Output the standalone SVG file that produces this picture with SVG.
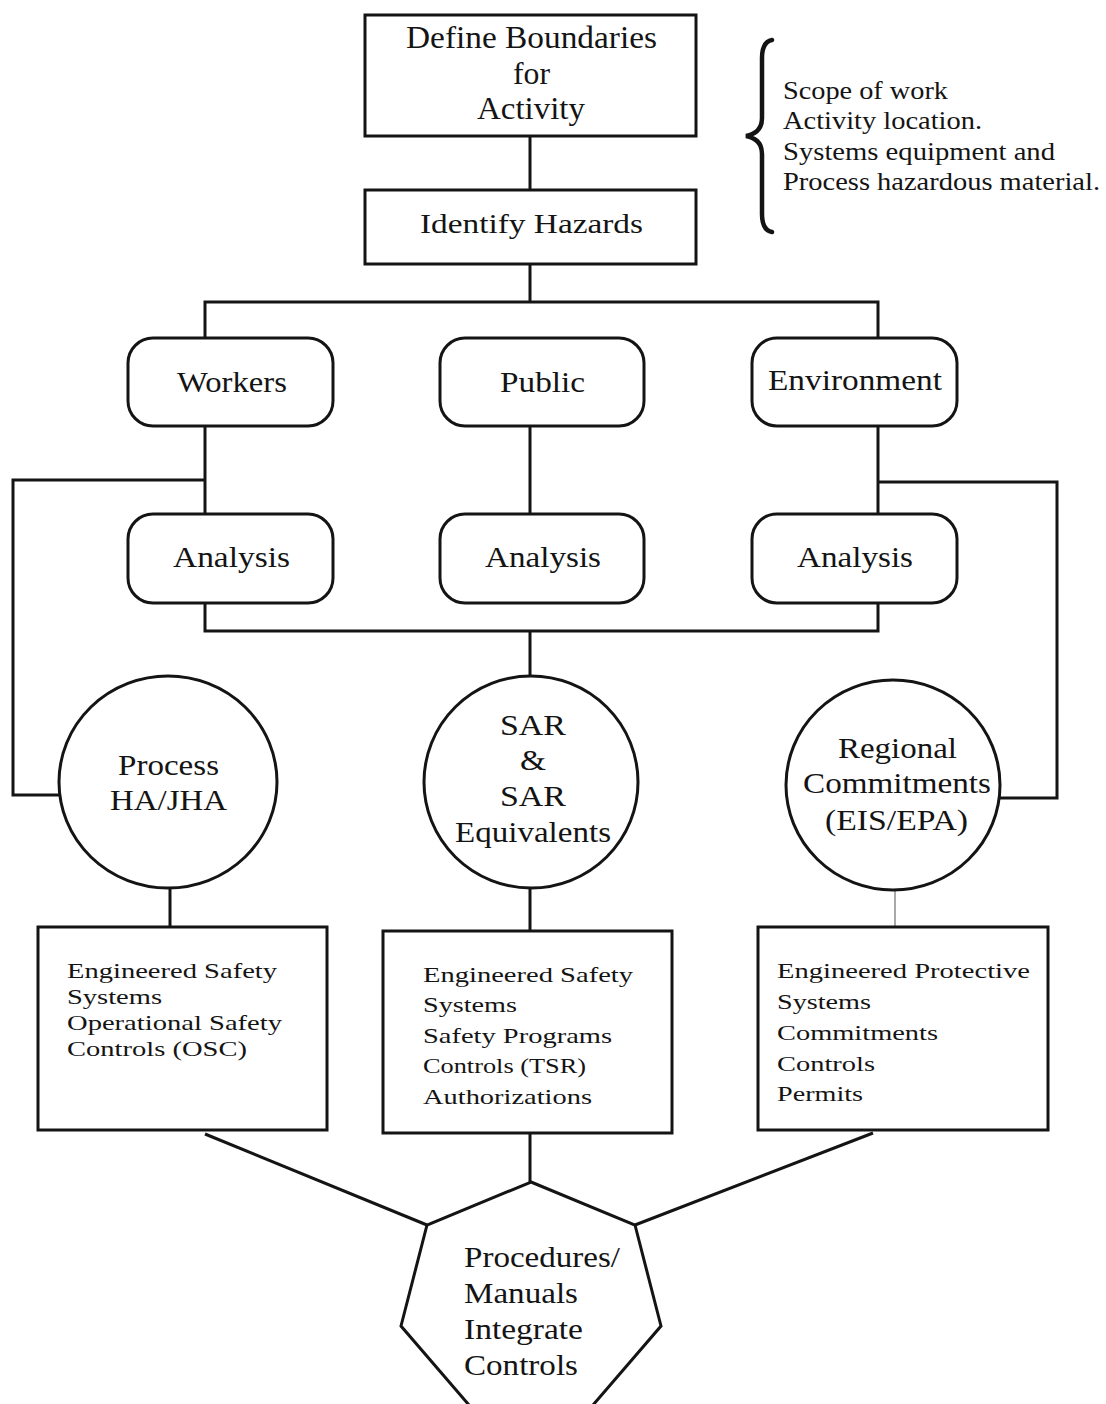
<svg xmlns="http://www.w3.org/2000/svg" width="1106" height="1404" viewBox="0 0 1106 1404">
  <style>
    .shape { fill: #ffffff; stroke: #141414; stroke-width: 3; }
    .wire { fill: none; stroke: #141414; stroke-width: 3; stroke-linejoin: miter; }
    .thin { fill: none; stroke: #707070; stroke-width: 1.2; }
    text { font-family: "Liberation Serif", "Times New Roman", serif; fill: #141414; }
    .t32 { font-size: 32px; }
    .t28 { font-size: 28px; }
    .t30 { font-size: 30px; }
    .t25 { font-size: 25px; }
    .t22 { font-size: 22px; }
  </style>

  <rect width="1106" height="1404" fill="#ffffff"/>

  <!-- connectors -->
  <g id="connectors">
    <path class="wire" d="M530,136 V190"/>
    <path class="wire" d="M530,264 V302"/>
    <path class="wire" d="M205,338 V302 H878 V338"/>
    <path class="wire" d="M205,426 V514"/>
    <path class="wire" d="M530,426 V514"/>
    <path class="wire" d="M878,426 V514"/>
    <path class="wire" d="M205,603 V631 H878 V603"/>
    <path class="wire" d="M530,631 V677"/>
    <path class="wire" d="M205,480 H13 V795 H60"/>
    <path class="wire" d="M878,482 H1057 V798 H1000"/>
    <path class="wire" d="M170,887 V927"/>
    <path class="wire" d="M530,887 V931"/>
    <path class="thin" d="M895,890 V927"/>
    <path class="wire" d="M205,1134 L427,1225"/>
    <path class="wire" d="M873,1133 L635,1225"/>
    <path class="wire" d="M530,1133 V1182"/>
  </g>

  <!-- scope brace and notes -->
  <g id="scope-note">
    <path d="M772,40 Q762,42 762,58 L762,118 Q762,133 746,136 Q762,139 762,154 L762,214 Q762,230 772,232" fill="none" stroke="#141414" stroke-width="4.5" stroke-linecap="round"/>
    <text class="t25" x="783" y="99" textLength="165" lengthAdjust="spacingAndGlyphs">Scope of work</text>
    <text class="t25" x="783" y="129" textLength="199" lengthAdjust="spacingAndGlyphs">Activity location.</text>
    <text class="t25" x="783" y="160" textLength="272" lengthAdjust="spacingAndGlyphs">Systems equipment and</text>
    <text class="t25" x="783" y="190" textLength="317" lengthAdjust="spacingAndGlyphs">Process hazardous material.</text>
  </g>

  <g id="define-boundaries">
    <rect class="shape" x="365" y="15" width="331" height="121"/>
    <text class="t32" x="406" y="48" textLength="251" lengthAdjust="spacingAndGlyphs">Define Boundaries</text>
    <text class="t32" x="513" y="84" textLength="37" lengthAdjust="spacingAndGlyphs">for</text>
    <text class="t32" x="477" y="119" textLength="108" lengthAdjust="spacingAndGlyphs">Activity</text>
  </g>

  <g id="identify-hazards">
    <rect class="shape" x="365" y="190" width="331" height="74"/>
    <text class="t28" x="420" y="233" textLength="223" lengthAdjust="spacingAndGlyphs">Identify Hazards</text>
  </g>

  <g id="workers">
    <rect class="shape" x="128" y="338" width="205" height="88" rx="25"/>
    <text class="t30" x="177" y="392" textLength="110" lengthAdjust="spacingAndGlyphs">Workers</text>
  </g>
  <g id="public">
    <rect class="shape" x="440" y="338" width="204" height="88" rx="25"/>
    <text class="t30" x="500" y="392" textLength="85" lengthAdjust="spacingAndGlyphs">Public</text>
  </g>
  <g id="environment">
    <rect class="shape" x="752" y="338" width="205" height="88" rx="25"/>
    <text class="t30" x="768" y="390" textLength="174" lengthAdjust="spacingAndGlyphs">Environment</text>
  </g>

  <g id="analysis-workers">
    <rect class="shape" x="128" y="514" width="205" height="89" rx="25"/>
    <text class="t30" x="173" y="567" textLength="117" lengthAdjust="spacingAndGlyphs">Analysis</text>
  </g>
  <g id="analysis-public">
    <rect class="shape" x="440" y="514" width="204" height="89" rx="25"/>
    <text class="t30" x="485" y="567" textLength="116" lengthAdjust="spacingAndGlyphs">Analysis</text>
  </g>
  <g id="analysis-environment">
    <rect class="shape" x="752" y="514" width="205" height="89" rx="25"/>
    <text class="t30" x="797" y="567" textLength="116" lengthAdjust="spacingAndGlyphs">Analysis</text>
  </g>

  <g id="process-ha">
    <ellipse class="shape" cx="168" cy="782" rx="109" ry="106"/>
    <text class="t30" x="118" y="775" textLength="101" lengthAdjust="spacingAndGlyphs">Process</text>
    <text class="t30" x="110" y="810" textLength="117" lengthAdjust="spacingAndGlyphs">HA/JHA</text>
  </g>

  <g id="sar">
    <ellipse class="shape" cx="531" cy="782" rx="107" ry="106"/>
    <text class="t30" x="500" y="735" textLength="66" lengthAdjust="spacingAndGlyphs">SAR</text>
    <text class="t30" x="520" y="770" textLength="26" lengthAdjust="spacingAndGlyphs">&amp;</text>
    <text class="t30" x="500" y="806" textLength="66" lengthAdjust="spacingAndGlyphs">SAR</text>
    <text class="t30" x="455" y="842" textLength="156" lengthAdjust="spacingAndGlyphs">Equivalents</text>
  </g>

  <g id="regional-commitments">
    <ellipse class="shape" cx="893" cy="785" rx="107" ry="105"/>
    <text class="t30" x="838" y="758" textLength="119" lengthAdjust="spacingAndGlyphs">Regional</text>
    <text class="t30" x="803" y="793" textLength="188" lengthAdjust="spacingAndGlyphs">Commitments</text>
    <text class="t30" x="825" y="830" textLength="143" lengthAdjust="spacingAndGlyphs">(EIS/EPA)</text>
  </g>

  <g id="process-controls">
    <rect class="shape" x="38" y="927" width="289" height="203"/>
    <text class="t22" x="67" y="978" textLength="210" lengthAdjust="spacingAndGlyphs">Engineered Safety</text>
    <text class="t22" x="67" y="1004" textLength="95" lengthAdjust="spacingAndGlyphs">Systems</text>
    <text class="t22" x="67" y="1030" textLength="215" lengthAdjust="spacingAndGlyphs">Operational Safety</text>
    <text class="t22" x="67" y="1056" textLength="180" lengthAdjust="spacingAndGlyphs">Controls (OSC)</text>
  </g>

  <g id="sar-controls">
    <rect class="shape" x="383" y="931" width="289" height="202"/>
    <text class="t22" x="423" y="982" textLength="210" lengthAdjust="spacingAndGlyphs">Engineered Safety</text>
    <text class="t22" x="423" y="1012" textLength="94" lengthAdjust="spacingAndGlyphs">Systems</text>
    <text class="t22" x="423" y="1043" textLength="189" lengthAdjust="spacingAndGlyphs">Safety Programs</text>
    <text class="t22" x="423" y="1073" textLength="163" lengthAdjust="spacingAndGlyphs">Controls (TSR)</text>
    <text class="t22" x="423" y="1104" textLength="169" lengthAdjust="spacingAndGlyphs">Authorizations</text>
  </g>

  <g id="regional-controls">
    <rect class="shape" x="758" y="927" width="290" height="203"/>
    <text class="t22" x="777" y="978" textLength="253" lengthAdjust="spacingAndGlyphs">Engineered Protective</text>
    <text class="t22" x="777" y="1009" textLength="94" lengthAdjust="spacingAndGlyphs">Systems</text>
    <text class="t22" x="777" y="1040" textLength="161" lengthAdjust="spacingAndGlyphs">Commitments</text>
    <text class="t22" x="777" y="1071" textLength="98" lengthAdjust="spacingAndGlyphs">Controls</text>
    <text class="t22" x="777" y="1101" textLength="86" lengthAdjust="spacingAndGlyphs">Permits</text>
  </g>

  <g id="procedures">
    <polygon class="shape" points="531,1182 635,1225 661,1326 587,1412 475,1412 401,1326 427,1225"/>
    <text class="t30" x="464" y="1267" textLength="156" lengthAdjust="spacingAndGlyphs">Procedures/</text>
    <text class="t30" x="464" y="1303" textLength="114" lengthAdjust="spacingAndGlyphs">Manuals</text>
    <text class="t30" x="464" y="1339" textLength="119" lengthAdjust="spacingAndGlyphs">Integrate</text>
    <text class="t30" x="464" y="1375" textLength="114" lengthAdjust="spacingAndGlyphs">Controls</text>
  </g>
</svg>
